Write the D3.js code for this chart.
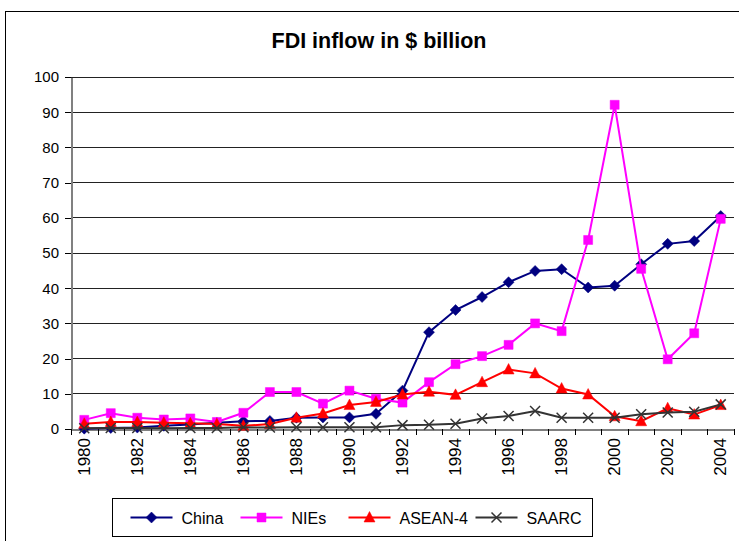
<!DOCTYPE html>
<meta charset="utf-8">
<head>
	<script src="https://d3js.org/d3.v7.min.js"></script>
	<style>
		body { margin: 0; background: #fff; }
		svg { font-family: "Liberation Sans", Arial, sans-serif; }
		.grid line { stroke: #222; stroke-width: 1; shape-rendering: crispEdges; }
		.axis path, .axis line { stroke: #808080; stroke-width: 2; fill: none; shape-rendering: crispEdges; }
		.axis text { fill: #000; font-size: 15px; }
	</style>
</head>
<body>
<div id="chart"></div>
<script>
	var years = d3.range(1980, 2005);
	var yTicks = [0, 10, 20, 30, 40, 50, 60, 70, 80, 90, 100];

	var china  = [0.1, 0.3, 0.4, 0.9, 1.3, 1.8, 2.2, 2.3, 3.2, 3.3, 3.3, 4.3, 10.9, 27.5, 33.8, 37.5, 41.7, 44.9, 45.4, 40.2, 40.7, 46.8, 52.6, 53.4, 60.5];
	var nies   = [2.6, 4.5, 3.2, 2.7, 3.0, 2.0, 4.6, 10.5, 10.5, 7.2, 10.9, 8.6, 7.5, 13.3, 18.4, 20.7, 23.9, 30.0, 27.8, 53.7, 92.1, 45.5, 19.8, 27.2, 59.7];
	var asean4 = [1.5, 2.0, 2.0, 1.8, 1.6, 1.4, 0.9, 1.4, 3.2, 4.4, 6.8, 7.7, 9.8, 10.6, 9.7, 13.3, 16.9, 15.8, 11.5, 9.8, 3.6, 2.2, 5.9, 4.1, 6.8];
	var saarc  = [0.2, 0.3, 0.3, 0.2, 0.3, 0.3, 0.5, 0.4, 0.5, 0.5, 0.5, 0.5, 1.1, 1.2, 1.5, 3.0, 3.7, 5.1, 3.2, 3.2, 3.2, 4.2, 4.7, 4.9, 7.0];

	var series = [
		{name: "China", values: china, color: "#000080", marker: "diamond"},
		{name: "NIEs", values: nies, color: "#ff00ff", marker: "square"},
		{name: "ASEAN-4", values: asean4, color: "#ff0000", marker: "triangle"},
		{name: "SAARC", values: saarc, color: "#333333", marker: "x"}
	];

	var W = 739, H = 541;
	var margin = {top: 77, left: 71, right: 5, bottom: 112};
	var width = W - margin.left - margin.right,
		height = H - margin.top - margin.bottom;

	var svg = d3.select("#chart").append("svg")
		.attr("width", W)
		.attr("height", H);

	// outer chart border (runs off the right/bottom edge)
	svg.append("rect")
		.attr("x", 5.5).attr("y", 11.5)
		.attr("width", 760).attr("height", 560)
		.style("fill", "none").style("stroke", "#000").style("stroke-width", 1);

	svg.append("text")
		.attr("x", 379).attr("y", 48)
		.attr("text-anchor", "middle")
		.style("font-size", "21.5px")
		.style("font-weight", "bold")
		.text("FDI inflow in $ billion");

	var g = svg.append("g")
		.attr("transform", "translate(" + margin.left + "," + margin.top + ")");

	var x = d3.scaleLinear().domain([1979.5, 2004.5]).range([0, width]);
	var y = d3.scaleLinear().domain([0, 100]).range([height, 0]);

	g.append("g").attr("class", "grid")
		.selectAll("line")
		.data(yTicks.slice(1))
		.enter().append("line")
		.attr("x1", 0).attr("x2", width)
		.attr("y1", function(d) { return y(d); })
		.attr("y2", function(d) { return y(d); });

	var yaxis_g = g.append("g").attr("class", "axis")
		.call(d3.axisLeft(y).tickValues(yTicks).tickSizeInner(6).tickSizeOuter(0).tickPadding(6));

	var xaxis_g = g.append("g").attr("class", "axis")
		.attr("transform", "translate(0," + height + ")")
		.call(d3.axisBottom(x).tickValues(d3.range(1979.5, 2005, 1)).tickSizeInner(6).tickSizeOuter(0).tickFormat(""));

	xaxis_g.selectAll("line").style("stroke-width", 1).style("stroke", "#000");
	yaxis_g.selectAll("line").style("stroke-width", 1).style("stroke", "#000");

	g.append("g")
		.selectAll("text")
		.data(years.filter(function(d) { return d % 2 === 0; }))
		.enter().append("text")
		.attr("transform", function(d) { return "translate(" + (x(d) + 5.5) + "," + (height + 9) + ")rotate(-90)"; })
		.attr("text-anchor", "end")
		.style("font-size", "17px")
		.text(function(d) { return d; });

	var line = d3.line()
		.x(function(d, i) { return x(years[i]); })
		.y(function(d) { return y(d); });

	function symbolPath(type) {
		if (type === "diamond") return "M0,-5.5L5.5,0L0,5.5L-5.5,0Z";
		if (type === "square") return "M-4.5,-4.5H4.5V4.5H-4.5Z";
		if (type === "triangle") return "M0,-6L5.5,4.5H-5.5Z";
		return "M-5,-5L5,5M-5,5L5,-5";
	}

	var sg = g.selectAll(".series")
		.data(series)
		.enter().append("g")
		.attr("class", "series");

	sg.append("path")
		.attr("d", function(d) { return line(d.values); })
		.style("fill", "none")
		.style("stroke", function(d) { return d.color; })
		.style("stroke-width", 2);

	sg.each(function(s) {
		d3.select(this).selectAll(".pt")
			.data(s.values)
			.enter().append("path")
			.attr("class", "pt")
			.attr("transform", function(d, i) { return "translate(" + x(years[i]) + "," + y(d) + ")"; })
			.attr("d", symbolPath(s.marker))
			.style("fill", s.marker === "x" ? "none" : s.color)
			.style("stroke", s.color)
			.style("stroke-width", s.marker === "x" ? 1.5 : 0.5);
	});

	// legend
	var legend = svg.append("g").attr("transform", "translate(112.5,498.5)");
	legend.append("rect")
		.attr("width", 480).attr("height", 38)
		.style("fill", "#fff").style("stroke", "#000").style("stroke-width", 1);

	var legendX = [18, 128, 236, 363];
	var item = legend.selectAll(".item")
		.data(series)
		.enter().append("g")
		.attr("class", "item")
		.attr("transform", function(d, i) { return "translate(" + legendX[i] + ",19)"; });

	item.append("line")
		.attr("x1", 0).attr("x2", 42)
		.style("stroke", function(d) { return d.color; })
		.style("stroke-width", 2);

	item.append("path")
		.attr("transform", "translate(21,0)")
		.attr("d", function(d) { return symbolPath(d.marker); })
		.style("fill", function(d) { return d.marker === "x" ? "none" : d.color; })
		.style("stroke", function(d) { return d.color; })
		.style("stroke-width", function(d) { return d.marker === "x" ? 1.5 : 0.5; });

	item.append("text")
		.attr("x", 51).attr("y", 6)
		.style("font-size", "16px")
		.text(function(d) { return d.name; });
</script>
</body>
